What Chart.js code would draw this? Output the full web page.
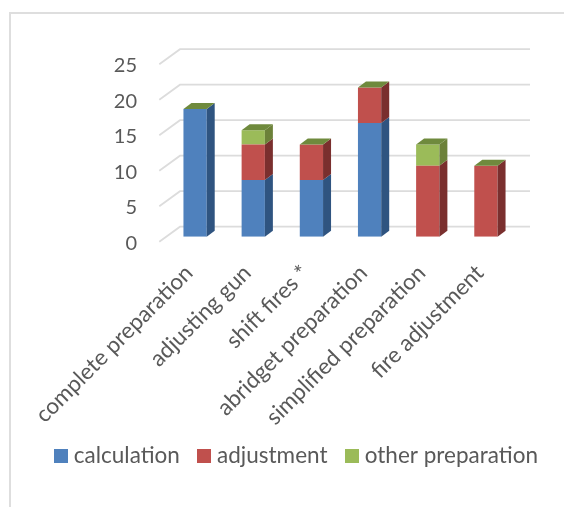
<!DOCTYPE html>
<html>
<head>
<meta charset="utf-8">
<title>Preparation time by fire type</title>
<script src="https://cdn.jsdelivr.net/npm/chart.js@4"></script>
<style>
    html, body { margin: 0; padding: 0; background: #fff; overflow: hidden; }
    #wrap { position: relative; width: 564px; height: 507px; }
    #frame {
        position: absolute; left: 9px; top: 12px; right: 0; bottom: 0;
        border-left: 2px solid #dedede; border-top: 2px solid #dedede;
    }
    canvas { position: absolute; left: 0; top: 0; }
</style>
</head>
<body>
<div id="wrap">
    <div id="frame"></div>
    <canvas id="chart" width="564" height="507"></canvas>
</div>
<script>
// ---------------- DATA ----------------
const categories = ["complete preparation", "adjusting gun", "shift fires *",
    "abridget preparation", "simplified preparation", "fire adjustment"];
const calculation = [18, 8, 8, 16, 0, 0];
const adjustment = [0, 5, 5, 5, 10, 10];
const otherPreparation = [0, 2, 0, 0, 3, 0];
const yTicks = [0, 5, 10, 15, 20, 25];

// ---------------- STYLE ----------------
const TEXT = "#595959";
const FONT = "Lato";
const TICK_SIZE = 20;
const LABEL_SIZE = 22.5;
const LEGEND_SIZE = 22.5;
const LEGEND_PAD = 22.5;
const GRID = "#dcdcdc";
const TOP_FACE = "#6f8a3d";
const DEPTH_X = 8, DEPTH_Y = 6;   // bar extrusion
const PAD_LEFT = 36, PAD_RIGHT = 3, PAD_TOP = 59.2, PAD_BOTTOM = 29.75;

const faces = {
    calculation: { front: "#4f81bd", side: "#2f5480" },
    adjustment: { front: "#c0504d", side: "#7a2f2e" },
    other: { front: "#9bbb59", side: "#6c8139" }
};

// small square used as legend marker
function swatch(color) {
    const c = document.createElement("canvas");
    c.width = 14;
    c.height = 14;
    const g = c.getContext("2d");
    g.fillStyle = color;
    g.fillRect(0, 0, 14, 14);
    return c;
}

// ---------------- 3D PLUGIN ----------------
function poly(ctx, color, pts) {
    ctx.fillStyle = color;
    ctx.beginPath();
    pts.forEach((p, i) => i ? ctx.lineTo(p[0], p[1]) : ctx.moveTo(p[0], p[1]));
    ctx.closePath();
    ctx.fill();
}

const box3d = {
    id: "box3d",
    // long rotated labels may run past the bottom of the axis box
    afterLayout(chart) {
        chart.scales.x.bottom = chart.height;
    },
    // back wall lines and the short floor diagonals
    beforeDatasetsDraw(chart) {
        const { ctx, chartArea, scales } = chart;
        ctx.save();
        ctx.strokeStyle = GRID;
        ctx.lineWidth = 1.8;
        yTicks.forEach(v => {
            const y = scales.y.getPixelForValue(v);
            ctx.beginPath();
            ctx.moveTo(chartArea.left - 6.7, y + 5);
            ctx.lineTo(chartArea.left + 14, y - 10);
            ctx.lineTo(chartArea.right + 15, y - 10);
            ctx.stroke();
        });
        ctx.restore();
    },
    // side and top faces on every segment
    afterDatasetsDraw(chart) {
        const { ctx } = chart;
        const keys = ["calculation", "adjustment", "other"];
        ctx.save();
        chart.data.datasets.forEach((ds, i) => {
            chart.getDatasetMeta(i).data.forEach((bar, j) => {
                if (!ds.data[j]) return;
                const r = bar.x + bar.width / 2;
                poly(ctx, faces[keys[i]].side, [
                    [r, bar.y], [r + DEPTH_X, bar.y - DEPTH_Y],
                    [r + DEPTH_X, bar.base - DEPTH_Y], [r, bar.base]
                ]);
            });
        });
        // the cap sits on the last series, even where its value is zero
        chart.getDatasetMeta(2).data.forEach(bar => {
            const l = bar.x - bar.width / 2, r = bar.x + bar.width / 2;
            poly(ctx, TOP_FACE, [
                [l, bar.y], [l + DEPTH_X, bar.y - DEPTH_Y],
                [r + DEPTH_X, bar.y - DEPTH_Y], [r, bar.y]
            ]);
        });
        ctx.restore();
    }
};

// ---------------- CHART ----------------
new Chart(document.getElementById("chart"), {
    type: "bar",
    plugins: [box3d],
    data: {
        labels: categories,
        datasets: [
            { label: "calculation", data: calculation, backgroundColor: faces.calculation.front },
            { label: "adjustment", data: adjustment, backgroundColor: faces.adjustment.front },
            { label: "other preparation", data: otherPreparation, backgroundColor: faces.other.front }
        ]
    },
    options: {
        responsive: false,
        animation: false,
        layout: { padding: { top: PAD_TOP, right: PAD_RIGHT, bottom: PAD_BOTTOM, left: PAD_LEFT } },
        datasets: { bar: { barPercentage: 1, categoryPercentage: 0.4 } },
        plugins: {
            tooltip: { enabled: false },
            legend: {
                position: "bottom",
                labels: {
                    color: TEXT,
                    font: { family: FONT, size: LEGEND_SIZE },
                    padding: LEGEND_PAD,
                    usePointStyle: true,
                    boxHeight: 14,
                    pointStyleWidth: 3.5,
                    generateLabels(chart) {
                        const items = Chart.defaults.plugins.legend.labels.generateLabels(chart);
                        items.forEach(it => { it.pointStyle = swatch(it.fillStyle); });
                        return items;
                    }
                }
            }
        },
        scales: {
            x: {
                stacked: true,
                border: { display: false },
                grid: { display: false },
                ticks: {
                    color: TEXT,
                    font: { family: FONT, size: LABEL_SIZE },
                    autoSkip: false,
                    minRotation: 45,
                    maxRotation: 45,
                    padding: 15,
                    labelOffset: -6
                },
                afterFit(scale) {
                    // the legend box is its font size + padding + 10
                    scale.height = 270.3 - PAD_BOTTOM - (LEGEND_SIZE + LEGEND_PAD + 10);
                    scale.paddingLeft = 0;
                    scale.paddingRight = 0;
                }
            },
            y: {
                stacked: true,
                min: 0,
                max: 25,
                border: { display: false },
                grid: { display: false },
                ticks: {
                    color: TEXT,
                    font: { family: FONT, size: TICK_SIZE },
                    stepSize: 5,
                    padding: 21,
                    labelOffset: 6.5
                },
                afterFit(scale) {
                    scale.width = 166 - PAD_LEFT;
                    scale.paddingTop = 0;
                    scale.paddingBottom = 0;
                }
            },
            // empty axis, keeps the plot clear of the back wall on the right
            spacer: {
                position: "right",
                border: { display: false },
                grid: { display: false },
                ticks: { display: false },
                afterFit(scale) {
                    scale.width = 49 - PAD_RIGHT;
                    scale.paddingTop = 0;
                    scale.paddingBottom = 0;
                }
            }
        }
    }
});
</script>
</body>
</html>
